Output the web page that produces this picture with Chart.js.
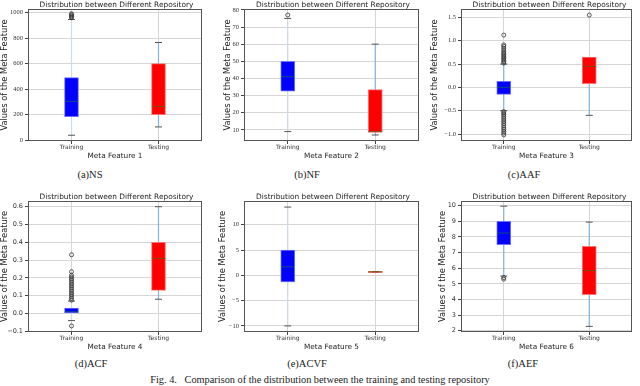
<!DOCTYPE html>
<html><head><meta charset="utf-8">
<script src="https://cdn.jsdelivr.net/npm/chart.js@4.4.1/dist/chart.umd.min.js"></script>
<style>
html,body{margin:0;padding:0;background:#fff;}
#wrap{position:relative;width:640px;height:386px;overflow:hidden;background:#fff;}
canvas{position:absolute;}
.t{position:absolute;font-family:"DejaVu Sans",sans-serif;font-size:7.4px;color:#222;white-space:nowrap;transform:translate(-50%,-50%);}
.c{position:absolute;font-family:"Liberation Serif",serif;font-size:10.5px;font-weight:normal;color:#222;white-space:pre;transform:translate(-50%,-50%);}
</style></head><body><div id="wrap"></div>
<script>
// ---- data (stats order: lower whisker, Q1, median, Q3, upper whisker) ----
const categories = ['Training', 'Testing'];
const subTitle = 'Distribution between Different Repository';
const captions = ['(a)NS', '(b)NF', '(c)AAF', '(d)ACF', '(e)ACVF', '(f)AEF'];
const figCaption = 'Fig. 4.   Comparison of the distribution between the training and testing repository';

const nsTrain = [40, 185, 305, 490, 945];
const nsTest = [105, 200, 265, 600, 765];
const nsTrainOut = [958, 966, 974, 982, 990];
const nsTestOut = [];
const nsTicks = [0, 200, 400, 600, 800, 1000];
const nsTickLabels = ['0', '200', '400', '600', '800', '1000'];

const nfTrain = [9, 32.5, 41, 50, 75];
const nfTest = [7, 8.5, 9, 33.5, 60];
const nfTrainOut = [77];
const nfTestOut = [];
const nfTicks = [10, 20, 30, 40, 50, 60, 70, 80];
const nfTickLabels = ['10', '20', '30', '40', '50', '60', '70', '80'];

const aafTrain = [-0.5, -0.15, 0.0, 0.13, 0.5];
const aafTest = [-0.6, 0.08, 0.45, 0.65, 0.6];
const aafTrainOut = [0.52, 0.55, 0.58, 0.61, 0.64, 0.67, 0.70, 0.73, 0.76, 0.80, 0.84, 0.88, 0.91, 1.12,
  -0.52, -0.55, -0.58, -0.62, -0.66, -0.70, -0.74, -0.78, -0.82, -0.86, -0.90, -0.94, -0.98, -1.02];
const aafTestOut = [1.55];
const aafTicks = [-1.0, -0.5, 0.0, 0.5, 1.0, 1.5];
const aafTickLabels = ['\u22121.0', '\u22120.5', '0.0', '0.5', '1.0', '1.5'];

const acfTrain = [-0.04, 0.0, 0.01, 0.03, 0.07];
const acfTest = [0.08, 0.13, 0.31, 0.40, 0.60];
const acfTrainOut = [0.075, 0.085, 0.095, 0.105, 0.115, 0.125, 0.135, 0.145, 0.155, 0.165, 0.175, 0.185,
  0.195, 0.205, 0.215, 0.235, 0.33, -0.07];
const acfTestOut = [];
const acfTicks = [-0.1, 0.0, 0.1, 0.2, 0.3, 0.4, 0.5, 0.6];
const acfTickLabels = ['\u22120.1', '0.0', '0.1', '0.2', '0.3', '0.4', '0.5', '0.6'];

const acvfTrain = [-10, -1.3, 1.7, 5.0, 13.5];
const acvfTest = [0.6, 0.55, 0.7, 0.8, 0.75];
const acvfTrainOut = [];
const acvfTestOut = [];
const acvfTicks = [-10, -5, 0, 5, 10];
const acvfTickLabels = ['\u221210', '\u22125', '0', '5', '10'];

const aefTrain = [5.5, 7.5, 8.25, 9.0, 9.97];
const aefTest = [2.28, 4.3, 5.85, 7.4, 8.95];
const aefTrainOut = [5.3, 5.4];
const aefTestOut = [];
const aefTicks = [2, 3, 4, 5, 6, 7, 8, 9, 10];
const aefTickLabels = ['2', '3', '4', '5', '6', '7', '8', '9', '10'];

// ---- layout ----
const panels = [
  {train: nsTrain, test: nsTest, trOut: nsTrainOut, teOut: nsTestOut, ticks: nsTicks, labels: nsTickLabels,
   min: -5, max: 1027, left: 0, top: 0, w: 210, h: 162, yw: 28, padT: 9, padR: 5, xh: 21, xtb: 2,
   tickFont: 'Liberation Serif', trW: '#cfdbe8', title: 'Meta Feature 1', capX: 90, capY: 174},
  {train: nfTrain, test: nfTest, trOut: nfTrainOut, teOut: nfTestOut, ticks: nfTicks, labels: nfTickLabels,
   min: 3.5, max: 80.5, left: 223, top: 0, w: 204, h: 162, yw: 21, padT: 9, padR: 5, xh: 21, xtb: 2,
   tickFont: 'Liberation Serif', trW: '#cfdbe8', title: 'Meta Feature 2', capX: 307, capY: 174},
  {train: aafTrain, test: aafTest, trOut: aafTrainOut, teOut: aafTestOut, ticks: aafTicks, labels: aafTickLabels,
   min: -1.15, max: 1.68, left: 430, top: 0, w: 210, h: 162, yw: 31, padT: 9, padR: 2, xh: 21, xtb: 2,
   tickFont: 'Liberation Serif', trW: '#86b4da', title: 'Meta Feature 3', capX: 524, capY: 174},
  {train: acfTrain, test: acfTest, trOut: acfTrainOut, teOut: acfTestOut, ticks: acfTicks, labels: acfTickLabels,
   min: -0.104, max: 0.632, left: 0, top: 180, w: 210, h: 172, yw: 28, padT: 21, padR: 5, xh: 20, xtb: 1,
   tickFont: 'DejaVu Sans', trW: '#cfdbe8', title: 'Meta Feature 4', capX: 91, capY: 363},
  {train: acvfTrain, test: acvfTest, trOut: acvfTrainOut, teOut: acvfTestOut, ticks: acvfTicks, labels: acvfTickLabels,
   min: -11.2, max: 14.7, left: 218, top: 180, w: 209, h: 172, yw: 26, padT: 21, padR: 5, xh: 20, xtb: 1,
   tickFont: 'Liberation Serif', trW: '#cfdbe8', title: 'Meta Feature 5', capX: 307, capY: 363},
  {train: aefTrain, test: aefTest, trOut: aefTrainOut, teOut: aefTestOut, ticks: aefTicks, labels: aefTickLabels,
   min: 1.92, max: 10.3, left: 438, top: 180, w: 202, h: 172, yw: 23, padT: 21, padR: 2, xh: 20, xtb: 1,
   tickFont: 'DejaVu Sans', trW: '#86b4da', title: 'Meta Feature 6', capX: 523, capY: 363}
];

const framePlugin = {
  id: 'frame',
  afterDraw(chart) {
    const a = chart.chartArea, ctx = chart.ctx;
    ctx.save();
    ctx.strokeStyle = '#555';
    ctx.lineWidth = 1;
    ctx.strokeRect(Math.round(a.left) + 0.5, Math.round(a.top) + 0.5, Math.round(a.right - a.left) - 1, Math.round(a.bottom - a.top) - 1);
    ctx.restore();
  }
};

const wrap = document.getElementById('wrap');
function addText(cls, text, x, y, extra) {
  const d = document.createElement('div');
  d.className = cls; d.textContent = text;
  d.style.left = x + 'px'; d.style.top = y + 'px';
  if (extra) Object.assign(d.style, extra);
  wrap.appendChild(d);
}

panels.forEach((p, i) => {
  const cv = document.createElement('canvas');
  cv.width = p.w; cv.height = p.h;
  cv.style.left = p.left + 'px'; cv.style.top = p.top + 'px';
  cv.style.width = p.w + 'px'; cv.style.height = p.h + 'px';
  wrap.appendChild(cv);

  const [c0, c1] = categories;
  const pt = (c, v) => ({x: c, y: v});
  const datasets = [
    {type: 'line', data: [pt(c0, p.train[0]), pt(c0, p.train[4])], borderColor: p.trW, borderWidth: 1.2, pointRadius: 0, order: 10},
    {type: 'line', data: [pt(c1, p.test[0]), pt(c1, p.test[4])], borderColor: '#86b4da', borderWidth: 1.2, pointRadius: 0, order: 10},
    {type: 'line', showLine: false, order: 3,
     data: [pt(c0, p.train[0]), pt(c0, p.train[4]), pt(c1, p.test[0]), pt(c1, p.test[4])],
     pointStyle: 'line', pointRadius: 3.5, borderColor: '#555', pointBorderWidth: 1},
    {type: 'bar', order: 2, data: [[p.train[1], p.train[3]], [p.test[1], p.test[3]]],
     backgroundColor: ['#0000ff', '#ff0000'], borderColor: ['#6f6fff', '#ff7070'], borderWidth: 1,
     borderSkipped: false, barThickness: 14},
    {type: 'line', showLine: false, order: 1,
     data: [pt(c0, p.train[2]), pt(c1, p.test[2])],
     pointStyle: 'line', pointRadius: 7, borderColor: 'rgba(20,135,30,0.55)', pointBorderWidth: 1},
    {type: 'line', showLine: false, order: 0,
     data: p.trOut.map(v => pt(c0, v)).concat(p.teOut.map(v => pt(c1, v))),
     pointStyle: 'circle', pointRadius: 2, borderColor: '#333', backgroundColor: 'rgba(0,0,0,0)', pointBorderWidth: 0.8}
  ];

  new Chart(cv, {
    type: 'bar',
    data: {labels: categories, datasets},
    options: {
      responsive: false, animation: false, devicePixelRatio: 1,
      layout: {padding: {top: p.padT, right: p.padR, left: 0, bottom: 0}},
      plugins: {legend: {display: false}, tooltip: {enabled: false}, title: {display: false}},
      scales: {
        x: {
          type: 'category', offset: true,
          grid: {offset: false, color: '#d6d6d6', lineWidth: 1, tickLength: 3, tickColor: '#444'},
          border: {display: false},
          ticks: {font: {family: 'DejaVu Sans', size: 6}, color: '#333', padding: 0, maxRotation: 0},
          title: {display: true, text: p.title, font: {family: 'DejaVu Sans', size: 7.3}, color: '#222', padding: {top: 0, bottom: p.xtb}},
          afterFit(s) { s.height = p.xh; }
        },
        y: {
          type: 'linear', min: p.min, max: p.max,
          afterBuildTicks(s) { s.ticks = p.ticks.map(v => ({value: v})); },
          grid: {color: '#d6d6d6', lineWidth: 1, tickLength: 3, tickColor: '#444'},
          border: {display: false},
          ticks: {font: {family: p.tickFont, size: 6.5}, color: '#333', padding: 2,
                  callback(v, idx) { return p.labels[idx]; }},
          title: {display: true, text: 'Values of the Meta Feature', font: {family: 'DejaVu Sans', size: 8.3}, color: '#222', padding: {top: 0, bottom: 0}},
          afterFit(s) { s.width = p.yw; }
        }
      }
    },
    plugins: [framePlugin]
  });

  const areaLeft = p.left + p.yw;
  const areaRight = p.left + p.w - p.padR;
  addText('t', subTitle, (areaLeft + areaRight) / 2, p.top + p.padT - 5);
  addText('c', captions[i], p.capX, p.capY);
});
addText('c', figCaption, 320, 379, {fontSize: '10.3px'});
</script></body></html>
